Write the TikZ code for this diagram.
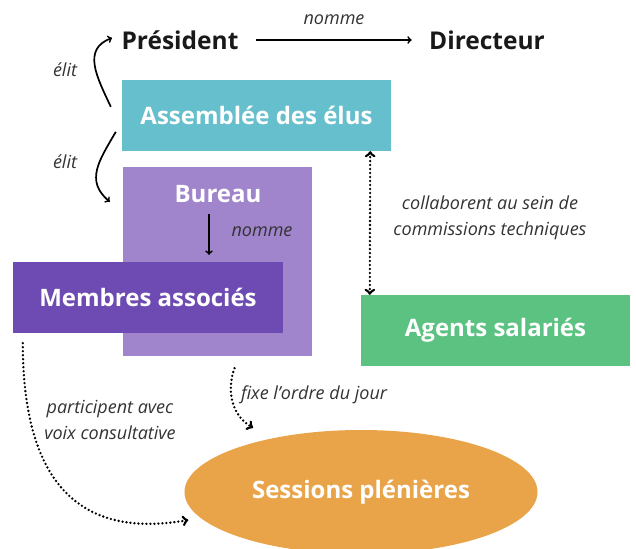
\documentclass[tikz,border=0pt]{standalone}
\usepackage{fontspec}
\setmainfont{Open Sans}
\usetikzlibrary{shapes.geometric}
\usepackage{xcolor}

\definecolor{assemblee}{HTML}{66BFCC}
\definecolor{bureau}{HTML}{A185CC}
\definecolor{membres}{HTML}{6E4BB2}
\definecolor{agents}{HTML}{5BC281}
\definecolor{sessions}{HTML}{E9A449}

\tikzset{
    title/.style={font=\fontsize{24.5}{28}\selectfont\bfseries, text=black!90},
    box/.style={rectangle, text=white, inner sep=0pt,
        font=\fontsize{24}{28}\selectfont\bfseries},
    lbl/.style={font=\fontsize{18}{26}\selectfont\itshape, text=black!80, align=center},
    arr/.style={->, line width=1.7pt},
    dotarr/.style={->, line width=2.6pt, dash pattern=on 0pt off 4pt, line cap=round}
}

\begin{document}
\begin{tikzpicture}[x=1pt,y=1pt]
    \useasboundingbox (0,0) rectangle (636,548);
    % boxes
    \node[box, fill=assemblee, minimum width=269, minimum height=71] (assemblee) at (256.5,432.5) {Assemblée des élus};
    \node[box, fill=bureau, minimum width=189, minimum height=189] (bureau) at (217.5,286.5) {};
    \node[box] (bureautxt) at (218,354) {Bureau};
    \node[box, fill=membres, minimum width=270, minimum height=71] (membres) at (148,250.5) {Membres associés};
    \node[box, fill=agents, minimum width=269, minimum height=71] (agents) at (495.5,217.5) {Agents salariés};
    \node[box, ellipse, fill=sessions, minimum width=353, minimum height=124] (sessions) at (361,56) {Sessions plénières};
    \node[title] (pres) at (180,508) {Président};
    \node[title] (dir) at (487,508) {Directeur};

    % labels
    \node[lbl] (nommelbl) at (334,528) {nomme};
    \node[lbl] (elitpres) at (65,478) {élit};
    \node[lbl] (elitbureau) at (65,386) {élit};
    \node[lbl] (nommemembres) at (262,316) {nomme};
    \node[lbl] (collablbl) at (490,330.5) {collaborent au sein de\\commissions techniques};
    \node[lbl] (particlbl) at (110,128) {participent avec\\voix consultative};
    \node[lbl] (fixelbl) at (314,153) {fixe l’ordre du jour};

    % connectors
    \draw[arr, shorten <=14pt, shorten >=14pt] (pres) -- (dir);
    \draw[arr] ([shift={(-11,-27)}]assemblee.north west) to[out=115, in=200, looseness=1.2] ([shift={(-6,2)}]pres.west);
    \draw[arr] ([shift={(-6,-52)}]assemblee.north west) to[out=240, in=140, looseness=1.2] ([shift={(-13,-35)}]bureau.north west);
    \draw[arr, shorten <=11pt, shorten >=7pt] ([xshift=-9pt]bureautxt.south) -- ([xshift=-9pt]bureautxt.south |- membres.north);
    \draw[dotarr, <->] ([xshift=-21pt]assemblee.south east) -- ([xshift=9pt]agents.north west);
    \draw[dotarr] ([shift={(10,-10)}]membres.south west) to[out=-90, in=190, looseness=1.3] ([shift={(4,-28)}]sessions.west);
    \draw[dotarr] ([shift={(17,-12)}]bureau.south) to[out=250, in=150] ([shift={(-108,2)}]sessions.north);
\end{tikzpicture}
\end{document}
